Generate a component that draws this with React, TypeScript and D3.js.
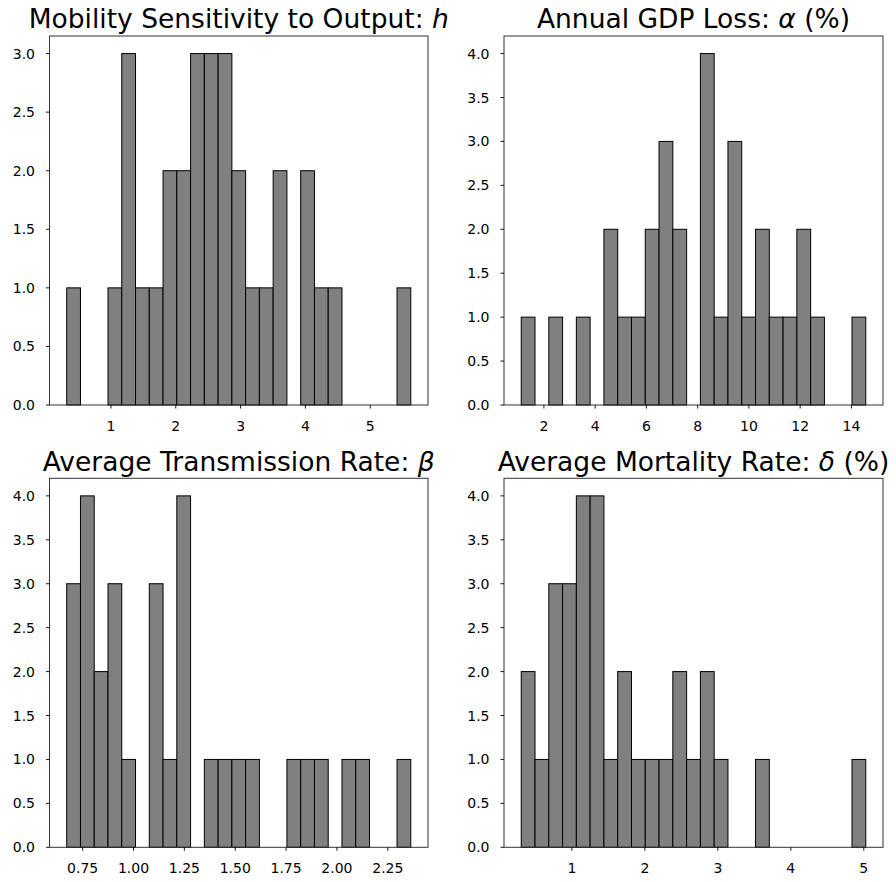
import React from "react";
import * as d3 from "d3";

// Histogram bin counts (25 bins each) and data range [min, max]
const hCounts = [1, 0, 0, 1, 3, 1, 1, 2, 2, 3, 3, 3, 2, 1, 1, 2, 0, 2, 1, 1, 0, 0, 0, 0, 1];
const hRange = [0.317, 5.626];
const hTicks = [1, 2, 3, 4, 5];

const alphaCounts = [1, 0, 1, 0, 1, 0, 2, 1, 1, 2, 3, 2, 0, 4, 1, 3, 1, 2, 1, 1, 2, 1, 0, 0, 1];
const alphaRange = [1.116, 14.56];
const alphaTicks = [2, 4, 6, 8, 10, 12, 14];

const betaCounts = [3, 4, 2, 3, 1, 0, 3, 1, 4, 0, 1, 1, 1, 1, 0, 0, 1, 1, 1, 0, 1, 1, 0, 0, 1];
const betaRange = [0.6716, 2.363];
const betaTicks = [0.75, 1.0, 1.25, 1.5, 1.75, 2.0, 2.25];

const deltaCounts = [2, 1, 3, 3, 4, 4, 1, 2, 1, 1, 1, 2, 1, 2, 1, 0, 0, 1, 0, 0, 0, 0, 0, 0, 1];
const deltaRange = [0.306, 5.027];
const deltaTicks = [1, 2, 3, 4, 5];

const yTicks3 = [0, 0.5, 1, 1.5, 2, 2.5, 3];
const yTicks4 = [0, 0.5, 1, 1.5, 2, 2.5, 3, 3.5, 4];

const FONT = "DejaVu Sans, sans-serif";

type PanelProps = {
  left: number;
  top: number;
  width: number;
  height: number;
  counts: number[];
  range: number[];
  xTicks: number[];
  yTicks: number[];
  xFmt: (v: number) => string;
  title: React.ReactNode;
};

function Panel({ left, top, width, height, counts, range, xTicks, yTicks, xFmt, title }: PanelProps) {
  const [mn, mx] = range;
  const span = mx - mn;
  const x = d3.scaleLinear().domain([mn - 0.05 * span, mx + 0.05 * span]).range([left, left + width]);
  const yMax = (d3.max(counts) as number) * 1.05;
  const y = d3.scaleLinear().domain([0, yMax]).range([top + height, top]);
  const bw = span / counts.length;
  const bins = counts.map((c, i) => ({ x0: mn + i * bw, x1: mn + (i + 1) * bw, c }));
  const bottom = top + height;
  return (
    <g>
      {bins.map((b, i) => (
        <rect
          key={i}
          x={x(b.x0)}
          y={y(b.c)}
          width={x(b.x1) - x(b.x0)}
          height={y(0) - y(b.c)}
          fill="#808080"
          stroke="#000"
          strokeWidth={1}
        />
      ))}
      <rect x={left} y={top} width={width} height={height} fill="none" stroke="#333" strokeWidth={1} />
      {yTicks.map((t) => (
        <g key={"y" + t}>
          <line x1={left - 3.5} x2={left} y1={y(t)} y2={y(t)} stroke="#000" strokeWidth={0.9} />
          <text x={left - 14.5} y={y(t)} dy="0.36em" textAnchor="end" fontFamily={FONT} fontSize={14} fill="#000">
            {t.toFixed(1)}
          </text>
        </g>
      ))}
      {xTicks.map((t) => (
        <g key={"x" + t}>
          <line x1={x(t)} x2={x(t)} y1={bottom} y2={bottom + 3.5} stroke="#000" strokeWidth={0.9} />
          <text x={x(t)} y={bottom + 26} textAnchor="middle" fontFamily={FONT} fontSize={14} fill="#000">
            {xFmt(t)}
          </text>
        </g>
      ))}
      <text x={left + width / 2} y={top - 7.7} textAnchor="middle" fontFamily={FONT} fontSize={26.5} fill="#000">
        {title}
      </text>
    </g>
  );
}

export default function App() {
  const W = 896;
  const H = 882;
  const fmtInt = (v: number) => d3.format("d")(v);
  const fmt2 = (v: number) => d3.format(".2f")(v);
  const it = (s: string) => <tspan fontStyle="italic">{s}</tspan>;
  return (
    <svg
      width={W}
      height={H}
      style={{ position: "absolute", left: 0, top: 0, background: "#fff" }}
    >
      <rect x={0} y={0} width={W} height={H} fill="#fff" />
      <Panel
        left={49.5}
        top={36}
        width={378.5}
        height={369}
        counts={hCounts}
        range={hRange}
        xTicks={hTicks}
        yTicks={yTicks3}
        xFmt={fmtInt}
        title={<>Mobility Sensitivity to Output: {it("h")}</>}
      />
      <Panel
        left={504}
        top={36}
        width={379}
        height={369}
        counts={alphaCounts}
        range={alphaRange}
        xTicks={alphaTicks}
        yTicks={yTicks4}
        xFmt={fmtInt}
        title={<>Annual GDP Loss: {it("α")} (%)</>}
      />
      <Panel
        left={49.5}
        top={478.3}
        width={378.5}
        height={369}
        counts={betaCounts}
        range={betaRange}
        xTicks={betaTicks}
        yTicks={yTicks4}
        xFmt={fmt2}
        title={<>Average Transmission Rate: {it("β")}</>}
      />
      <Panel
        left={504}
        top={478.3}
        width={379}
        height={369}
        counts={deltaCounts}
        range={deltaRange}
        xTicks={deltaTicks}
        yTicks={yTicks4}
        xFmt={fmtInt}
        title={<>Average Mortality Rate: {it("δ")} (%)</>}
      />
    </svg>
  );
}
